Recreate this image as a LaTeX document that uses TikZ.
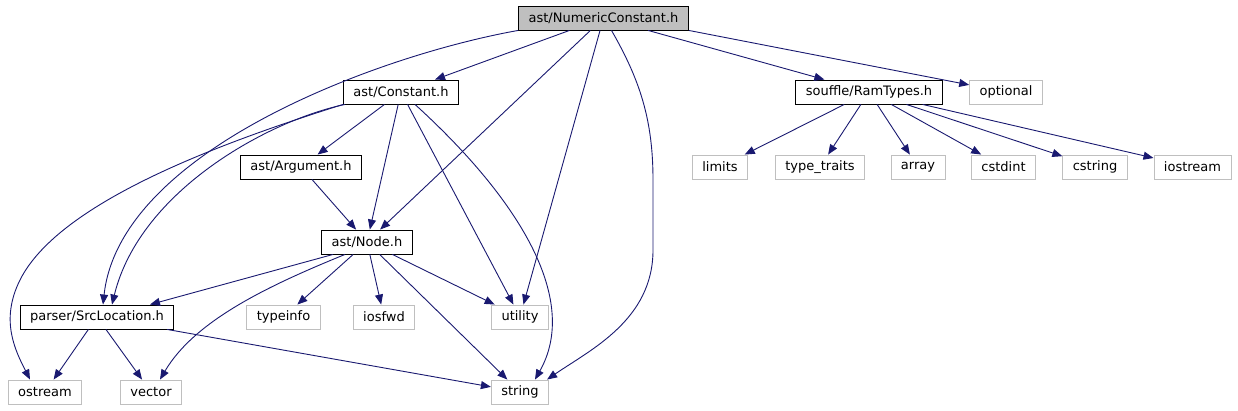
\documentclass[tikz,border=0pt]{standalone}
\usepackage{fontspec}
\setmainfont{DejaVu Sans}
\usetikzlibrary{arrows.meta}
\definecolor{cedge}{HTML}{191970}
\definecolor{cext}{HTML}{BFBFBF}
\definecolor{ccur}{HTML}{BFBFBF}
\tikzset{
  every picture/.style={font=\fontsize{13}{15}\selectfont, line width=0.9pt},
  file/.style={draw=#1, fill=white, inner xsep=10pt, inner ysep=0pt, minimum height=24pt},
  file/.default=black,
  hdr/.style={file=black},
  sys/.style={file=cext},
  cur/.style={file=black, fill=ccur},
  inc/.style={-{Triangle[length=10pt, width=8pt]}, draw=cedge, line width=0.9pt},
}

\begin{document}
\begin{tikzpicture}[x=1pt, y=-1pt]
  \useasboundingbox (0,0) rectangle (1238,411);

  % top
  \node[cur] (nc) at (603.5,18) {ast/NumericConstant.h};

  % second row
  \node[hdr] (const) at (401,92) {ast/Constant.h};
  \node[hdr] (ram) at (869,92) {souffle/RamTypes.h};
  \node[sys] (opt) at (1006,92) {optional};

  % third row
  \node[hdr] (arg) at (301,167) {ast/Argument.h};
  \node[sys] (limits) at (720,167) {limits};
  \node[sys] (traits) at (820,167) {type\_traits};
  \node[sys] (array) at (918,167) {array};
  \node[sys] (cstdint) at (1003.5,167) {cstdint};
  \node[sys] (cstring) at (1095,167) {cstring};
  \node[sys] (iostream) at (1192.5,167) {iostream};

  % fourth row
  \node[hdr] (node) at (367,242) {ast/Node.h};

  % fifth row
  \node[hdr] (src) at (97,317) {parser/SrcLocation.h};
  \node[sys] (typeinfo) at (283.5,317) {typeinfo};
  \node[sys] (iosfwd) at (384,317) {iosfwd};
  \node[sys] (utility) at (520,317) {utility};

  % bottom
  \node[sys] (ostream) at (45,392) {ostream};
  \node[sys] (vector) at (151,392) {vector};
  \node[sys] (string) at (520,392) {string};

  % from ast/NumericConstant.h
  \draw[inc] (nc) -- (const);
  \draw[inc] (nc.south west) .. controls (380,55) and (120,150) .. ([xshift=6pt]src.north);
  \draw[inc] (nc) -- (node);
  \draw[inc] (nc) -- (utility);
  \draw[inc] ([xshift=8pt]nc.south) .. controls (640,80) and (653,120) .. (653,180)
    -- (653,250) .. controls (653,320) and (590,350) .. ([xshift=-2pt]string.north east);
  \draw[inc] (nc) -- (ram);
  \draw[inc] (nc.south east) -- (opt);

  % from ast/Constant.h
  \draw[inc] (const.south west) .. controls (230,140) and (60,200) .. (20,280)
    .. controls (0,320) and (15,350) .. ([xshift=-15pt]ostream.north);
  \draw[inc] ([xshift=2pt]const.south west) .. controls (270,120) and (140,190) .. ([xshift=15pt]src.north);
  \draw[inc] (const) -- (arg);
  \draw[inc] (const) -- (node);
  \draw[inc] (const) -- (utility);
  \draw[inc] ([xshift=14pt]const.south) .. controls (520,200) and (580,300) .. ([xshift=15pt]string.north);

  % from ast/Argument.h
  \draw[inc] (arg) -- (node);

  % from ast/Node.h
  \draw[inc] ([xshift=-34pt]node.south) -- ([xshift=53pt]src.north);
  \draw[inc] ([xshift=-22pt]node.south) .. controls (270,285) and (195,320) .. ([xshift=9pt]vector.north);
  \draw[inc] (node) -- (typeinfo);
  \draw[inc] (node) -- (iosfwd);
  \draw[inc] (node) -- (utility);
  \draw[inc] (node) -- (string);

  % from parser/SrcLocation.h
  \draw[inc] (src) -- (ostream);
  \draw[inc] (src) -- (vector);
  \draw[inc] (src) -- (string);

  % from souffle/RamTypes.h
  \foreach \t in {limits, traits, array, cstdint, cstring, iostream}
    \draw[inc] (ram) -- (\t);
\end{tikzpicture}
\end{document}
